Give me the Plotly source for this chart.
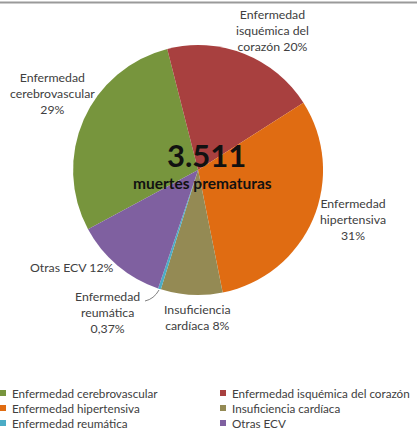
import plotly.graph_objects as go

categories = ["Enfermedad cerebrovascular", "Enfermedad isquémica del corazón",
              "Enfermedad hipertensiva", "Insuficiencia cardíaca",
              "Enfermedad reumática", "Otras ECV"]
values = [29, 20, 31, 8, 0.37, 12]
slice_labels = ["Enfermedad<br>cerebrovascular<br>29%", "Enfermedad<br>isquémica del<br>corazón 20%",
                "Enfermedad<br>hipertensiva<br>31%", "Insuficiencia<br>cardíaca 8%",
                "Enfermedad<br>reumática<br>0,37%", "Otras ECV 12%"]
colors = ["#77953D", "#A8403F", "#E06C12", "#948A54", "#4BACC6", "#7F60A0"]
total_text = "3.511"
subtitle = "muertes prematuras"

FONT = "Lato, 'Open Sans', sans-serif"
W, H = 417, 437

fig = go.Figure(go.Pie(
    labels=categories, values=values, sort=False, direction="clockwise",
    rotation=241.7, marker=dict(colors=colors, line=dict(width=0)),
    textinfo="none", hoverinfo="label+percent", showlegend=False,
    domain=dict(x=[0.175, 0.775], y=[0.325, 0.897]),
))

# outside labels (centre positions in pixels from top-left)
label_pos = [(52, 94), (272, 30), (353, 219), (197, 317), (107, 312), (72, 267)]
for txt, (px, py) in zip(slice_labels, label_pos):
    fig.add_annotation(x=px / W, y=1 - py / H, xref="paper", yref="paper",
                       xanchor="center", yanchor="middle",
                       text=txt, showarrow=False, align="center",
                       font=dict(family=FONT, size=12.3, color="#404040"))

# leader line for the small slice
fig.add_shape(type="path", xref="paper", yref="paper",
              path="M %f %f Q %f %f %f %f" % (145 / W, 1 - 301 / H, 154 / W, 1 - 299 / H, 159 / W, 1 - 290 / H),
              line=dict(color="#808080", width=1))

fig.add_annotation(x=206 / W, y=1 - 155 / H, xref="paper", yref="paper",
                   xanchor="center", yanchor="middle",
                   text="<b>%s</b>" % total_text, showarrow=False,
                   font=dict(family=FONT, size=31, color="#111111"))
fig.add_annotation(x=202 / W, y=1 - 183 / H, xref="paper", yref="paper",
                   xanchor="center", yanchor="middle",
                   text="<b>%s</b>" % subtitle, showarrow=False,
                   font=dict(family=FONT, size=15.5, color="#111111"))

# top border line
fig.add_shape(type="line", xref="paper", yref="paper", x0=0, x1=1, y0=1 - 2.5 / H, y1=1 - 2.5 / H,
              line=dict(color="#9a9a9a", width=2), layer="above")

# legend: two columns, three rows
col_x = [3, 223]
row_y = [393, 408, 423]
for i, (name, col) in enumerate(zip(categories, colors)):
    cx = col_x[i % 2]
    cy = row_y[i // 2]
    fig.add_shape(type="rect", xref="paper", yref="paper",
                  x0=(cx - 3) / W, x1=(cx + 3) / W, y0=1 - (cy + 3) / H, y1=1 - (cy - 3) / H,
                  fillcolor=col, line=dict(width=0))
    fig.add_annotation(x=(cx + 7) / W, y=1 - cy / H, xref="paper", yref="paper",
                       xanchor="left", yanchor="middle", text=name, showarrow=False,
                       font=dict(family=FONT, size=11.7, color="#404040"))

fig.update_layout(
    width=W, height=H, margin=dict(l=0, r=0, t=0, b=0),
    paper_bgcolor="white", plot_bgcolor="white",
    font=dict(family=FONT),
    showlegend=False,
)

fig.write_html("out.html", config={"displayModeBar": False},
               post_script="document.body.style.margin='0';document.body.style.overflow='hidden';")
